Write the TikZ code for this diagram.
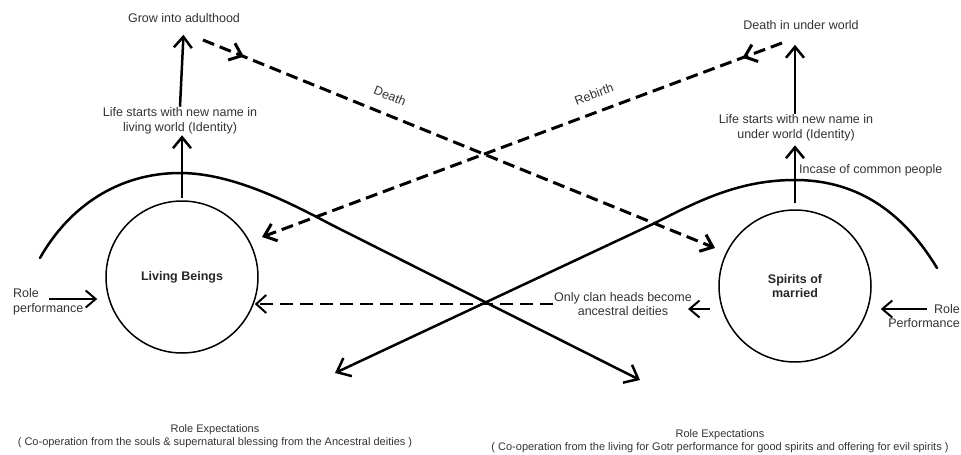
\documentclass[tikz,border=0pt]{standalone}
\usepackage{fontspec}
\setmainfont{Liberation Sans}
\usetikzlibrary{arrows.meta,decorations.markings}

\begin{document}
\begin{tikzpicture}[
    x=1pt, y=-1pt,
    label text/.style={text=black!80, font=\fontsize{12.5}{14.5}\selectfont, align=center, inner sep=1pt},
    note text/.style={text=black!80, font=\fontsize{11}{12.5}\selectfont, align=center, inner sep=0pt},
    world circle/.style={circle, draw=black, line width=1.5pt, minimum size=152pt, align=center,
        font=\fontsize{12.5}{14}\selectfont\bfseries, text=black!85},
    up arrow/.style={line width=2.5pt, -{Straight Barb[length=11pt,width=18pt]}},
    side arrow/.style={line width=2pt, -{Straight Barb[length=10pt,width=17pt]}},
    cycle line/.style={line width=2.5pt, line cap=round, -{Straight Barb[length=12pt,width=20pt]}},
    cross dash/.style={line width=3pt, dash pattern=on 12pt off 6pt, -{Straight Barb[length=11pt,width=18pt]}},
    mid arrow/.style={postaction={decorate, decoration={markings,
        mark=at position #1 with {\arrow{Straight Barb[length=11pt,width=18pt]}}}}},
    flat dash/.style={line width=2pt, dash pattern=on 13pt off 7pt, -{Straight Barb[length=10pt,width=18pt]}}
]
\useasboundingbox (0,0) rectangle (961,455);

% Worlds
\node[world circle] (live) at (182,277) {Living Beings};
\node[world circle] (spirit) at (795,286) {Spirits of\\married};

% Life cycle texts
\node[label text] (lifeL) at (180,121) {Life starts with new name in\\living world (Identity)};
\node[label text] (growL) at (184,18) {Grow into adulthood};
\node[label text] (lifeR) at (796,128) {Life starts with new name in\\under world (Identity)};
\node[label text] (deathR) at (801,25) {Death in under world};
\node[label text, anchor=west] (common) at (798,170) {Incase of common people};
\node[label text, align=left, anchor=west] (roleL) at (12,302) {Role\\performance};
\node[label text, align=right, anchor=east] (roleR) at (961,316) {Role\\Performance};
\node[label text, anchor=west] (clan) at (553,304) {Only clan heads become\\ancestral deities};

% Expectations
\node[note text] (expL) at (215,436) {Role Expectations\\( Co-operation from the souls \& supernatural blessing from the Ancestral deities )};
\node[note text] (expR) at (720,441) {Role Expectations\\( Co-operation from the living for Gotr performance for good spirits and offering for evil spirits )};

% Growing up
\draw[up arrow, shorten <=2pt] (live.north) -- (live.north |- lifeL.south);
\draw[up arrow, shorten >=11pt] (lifeL.north) -- (growL.south);
\draw[up arrow, shorten <=6pt, shorten >=3pt] (spirit.north) -- (spirit.north |- lifeR.south);
\draw[up arrow, shorten >=14pt] (spirit.north |- lifeR.north) -- (spirit.north |- deathR.south);

% Role performance
\coordinate (roleLa) at (49,299);
\coordinate (roleRa) at (927,309);
\coordinate (clanA) at (688,309);
\draw[side arrow, shorten >=8pt] (roleLa) -- (roleLa -| live.west);
\draw[side arrow, shorten >=9pt] (roleRa) -- (roleRa -| spirit.east);
\draw[side arrow, shorten <=8pt] (spirit.west |- clanA) -- (clanA);
\draw[flat dash, shorten >=-4pt] (clan.west) -- (clan.west -| live.east);

% Death and rebirth
\coordinate (deathA) at (203,40);
\coordinate (deathB) at (715,248);
\coordinate (birthA) at (782,43);
\coordinate (birthB) at (262,237);
\draw[cross dash, mid arrow=0.08] (deathA) -- (deathB);
\draw[cross dash, mid arrow=0.076] (birthA) -- (birthB);
\node[label text, rotate=-22] (deathLbl) at (390,96) {Death};
\node[label text, rotate=20.5] (birthLbl) at (594,94) {Rebirth};

% Cycles
\coordinate (cycLa) at (40,258);
\coordinate (cycLb) at (640,380);
\coordinate (cycRa) at (937,268);
\coordinate (cycRb) at (335,373);
\draw[cycle line] (cycLa) .. controls (70,205) and (120,173) .. (180,173)
    .. controls (230,173) and (285,200) .. (330,224) -- (cycLb);
\draw[cycle line] (cycRa) .. controls (905,215) and (860,180) .. (795,180)
    .. controls (740,180) and (700,200) .. (655,223) -- (cycRb);
\end{tikzpicture}
\end{document}
